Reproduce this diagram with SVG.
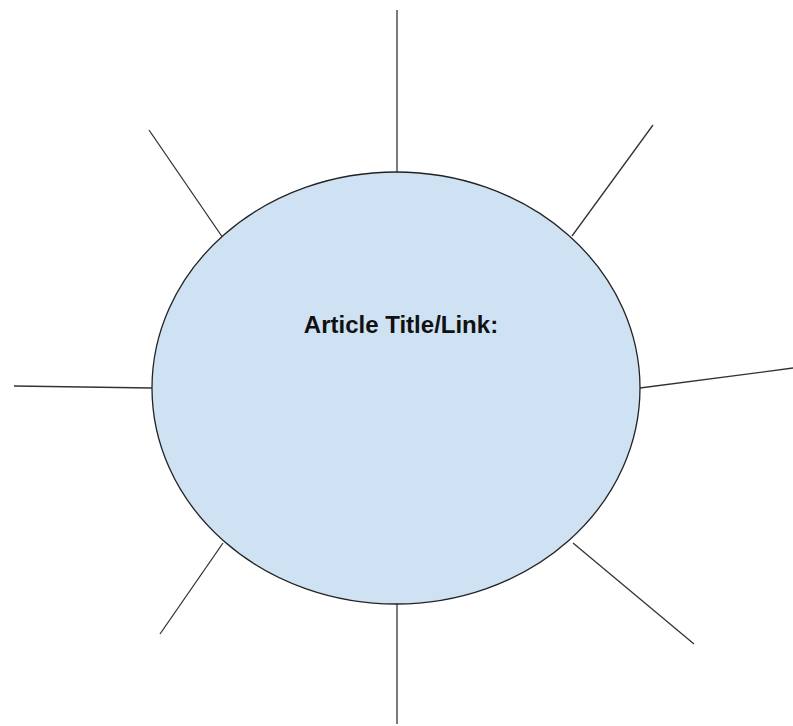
<svg xmlns="http://www.w3.org/2000/svg" width="793" height="726" viewBox="0 0 793 726">
<style>
.spoke{stroke:#333333;stroke-width:1.3;fill:none}
.bubble{fill:#cfe2f3;stroke:#222222;stroke-width:1.3}
.title{font-family:"Liberation Sans",Arial,sans-serif;font-weight:bold;font-size:24px;fill:#111111}
</style>
<rect width="793" height="726" fill="#ffffff"/>
<g id="connectors">
<line class="spoke" x1="397" y1="10" x2="397" y2="172"/>
<line class="spoke" x1="149" y1="130" x2="223" y2="238"/>
<line class="spoke" x1="653" y1="125" x2="572" y2="236"/>
<line class="spoke" x1="14" y1="386" x2="152" y2="388"/>
<line class="spoke" x1="640" y1="388" x2="793" y2="368"/>
<line class="spoke" x1="223" y1="543" x2="160" y2="634"/>
<line class="spoke" x1="573" y1="543" x2="694" y2="644"/>
<line class="spoke" x1="397" y1="604" x2="397" y2="724"/>
</g>
<g id="center">
<ellipse class="bubble" cx="396" cy="388" rx="244" ry="216"/>
<text class="title" x="401" y="333" text-anchor="middle">Article Title/Link:</text>
</g>
</svg>
